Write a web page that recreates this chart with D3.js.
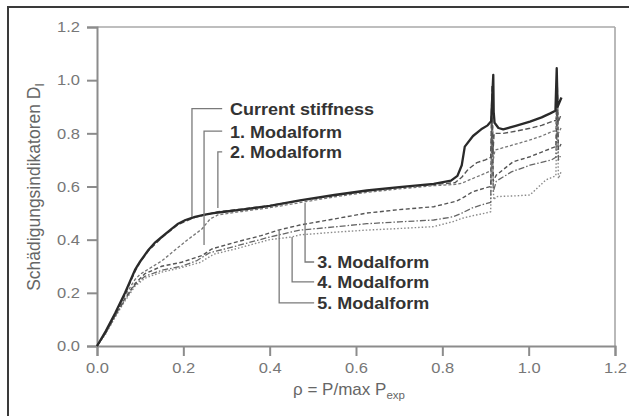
<!DOCTYPE html>
<html><head><meta charset="utf-8">
<script src="https://cdn.jsdelivr.net/npm/d3@7"></script>
<style>
body{margin:0;background:#fff;}
svg{display:block;font-family:Arial,"Liberation Sans",Helvetica,sans-serif;}
</style></head><body>
<svg id="chart" width="629" height="416"></svg>
<script>
// ---------- data ----------
const xTicks = [0.0, 0.2, 0.4, 0.6, 0.8, 1.0, 1.2];
const yTicks = [0.0, 0.2, 0.4, 0.6, 0.8, 1.0, 1.2];

const currentStiffness = [[0,0],[0.02,0.055],[0.042,0.123],[0.065,0.2],[0.088,0.286],[0.1,0.318],[0.119,0.361],[0.135,0.39],[0.15,0.41],[0.17,0.437],[0.188,0.46],[0.205,0.474],[0.227,0.486],[0.25,0.494],[0.27,0.5],[0.3,0.506],[0.335,0.513],[0.4,0.527],[0.47,0.548],[0.55,0.568],[0.625,0.585],[0.7,0.598],[0.78,0.61],[0.82,0.622],[0.835,0.64],[0.845,0.68],[0.852,0.75],[0.871,0.79],[0.89,0.815],[0.905,0.83],[0.913,0.845],[0.916,0.95],[0.918,1.02],[0.919,0.88],[0.921,0.84],[0.93,0.82],[0.941,0.815],[0.97,0.828],[1.003,0.844],[1.03,0.86],[1.05,0.875],[1.062,0.885],[1.065,1.045],[1.067,0.9],[1.076,0.935]];
const modal1 = [[0,0],[0.02,0.048],[0.042,0.112],[0.065,0.175],[0.088,0.23],[0.111,0.262],[0.15,0.285],[0.196,0.3],[0.23,0.32],[0.26,0.35],[0.32,0.375],[0.4,0.41],[0.47,0.436],[0.55,0.448],[0.625,0.46],[0.7,0.467],[0.78,0.474],[0.825,0.486],[0.845,0.5],[0.87,0.52],[0.9,0.535],[0.912,0.54],[0.915,0.85],[0.918,0.58],[0.925,0.62],[0.96,0.655],[1.003,0.68],[1.053,0.7],[1.063,0.71],[1.066,0.9],[1.069,0.7],[1.075,0.72]];
const modal2 = [[0,0],[0.02,0.05],[0.042,0.12],[0.065,0.195],[0.088,0.28],[0.1,0.315],[0.119,0.358],[0.15,0.408],[0.188,0.457],[0.227,0.484],[0.28,0.505],[0.335,0.515],[0.4,0.528],[0.47,0.547],[0.55,0.566],[0.625,0.583],[0.7,0.596],[0.78,0.607],[0.83,0.615],[0.845,0.635],[0.86,0.665],[0.88,0.69],[0.9,0.7],[0.912,0.71],[0.915,0.98],[0.917,0.72],[0.92,0.8],[0.941,0.8],[0.97,0.808],[1.003,0.819],[1.03,0.83],[1.055,0.845],[1.064,0.85],[1.066,1.02],[1.068,0.84],[1.075,0.87]];
const modal3 = [[0,0],[0.02,0.05],[0.042,0.12],[0.065,0.19],[0.088,0.25],[0.1,0.27],[0.12,0.29],[0.15,0.32],[0.18,0.36],[0.21,0.4],[0.243,0.44],[0.262,0.478],[0.28,0.493],[0.335,0.506],[0.4,0.52],[0.48,0.542],[0.55,0.561],[0.625,0.578],[0.7,0.591],[0.78,0.603],[0.83,0.608],[0.845,0.612],[0.87,0.63],[0.9,0.65],[0.914,0.66],[0.916,0.95],[0.918,0.7],[0.922,0.737],[0.95,0.75],[1.003,0.775],[1.03,0.79],[1.053,0.806],[1.063,0.81],[1.066,0.98],[1.069,0.8],[1.075,0.82]];
const modal4 = [[0,0],[0.02,0.045],[0.042,0.108],[0.065,0.17],[0.088,0.225],[0.111,0.255],[0.15,0.278],[0.196,0.295],[0.24,0.315],[0.27,0.345],[0.32,0.365],[0.4,0.4],[0.45,0.41],[0.47,0.418],[0.55,0.428],[0.625,0.436],[0.7,0.442],[0.78,0.449],[0.825,0.468],[0.845,0.48],[0.87,0.49],[0.9,0.5],[0.912,0.505],[0.915,0.8],[0.919,0.55],[0.925,0.562],[0.97,0.565],[1.003,0.568],[1.04,0.625],[1.063,0.64],[1.066,0.85],[1.069,0.63],[1.075,0.655]];
const modal5 = [[0,0],[0.02,0.05],[0.042,0.115],[0.065,0.18],[0.088,0.235],[0.111,0.272],[0.15,0.3],[0.196,0.315],[0.243,0.34],[0.266,0.365],[0.32,0.39],[0.38,0.415],[0.42,0.436],[0.47,0.455],[0.55,0.478],[0.625,0.5],[0.7,0.513],[0.78,0.524],[0.833,0.545],[0.85,0.56],[0.87,0.58],[0.9,0.595],[0.912,0.6],[0.915,0.9],[0.918,0.62],[0.925,0.643],[0.964,0.693],[1.003,0.712],[1.053,0.744],[1.063,0.75],[1.066,0.95],[1.069,0.74],[1.075,0.76]];

const labelNames   = ["Current stiffness","1. Modalform","2. Modalform","3. Modalform","4. Modalform","5. Modalform"];
const labelAnchorX = [0.220, 0.248, 0.280, 0.482, 0.452, 0.422];
const labelAnchorY = [0.485, 0.380, 0.519, 0.538, 0.410, 0.436];
const labelElbowY  = [0.893, 0.808, 0.730, 0.316, 0.241, 0.162];
const labelLineEndX= [0.290, 0.290, 0.290, 0.503, 0.503, 0.503];
const labelTextX   = [0.308, 0.308, 0.308, 0.510, 0.510, 0.510];

const xTitle = "ρ = P/max P", xTitleSub = "exp";
const yTitle = "Schädigungsindikatoren D", yTitleSub = "I";

// ---------- chart ----------
const svg = d3.select("#chart");
svg.append("rect").attr("width",629).attr("height",416).attr("fill","#fff");
svg.append("rect").attr("x",8).attr("y",7).attr("width",660).attr("height",460)
   .attr("fill","none").attr("stroke","#3a3a3a").attr("stroke-width",2);

const x = d3.scaleLinear().domain([0,1.2]).range([97,615]);
const y = d3.scaleLinear().domain([0,1.2]).range([346,27]);

// box
svg.append("line").attr("x1",x(0)).attr("x2",x(1.2)).attr("y1",y(1.2)).attr("y2",y(1.2)).attr("stroke","#a8a8a8").attr("stroke-width",1.6);
svg.append("line").attr("x1",x(1.2)).attr("x2",x(1.2)).attr("y1",y(1.2)).attr("y2",y(0)).attr("stroke","#a8a8a8").attr("stroke-width",1.6);

const gx = svg.append("g").attr("transform",`translate(0,${y(0)})`)
  .call(d3.axisBottom(x).tickValues(xTicks).tickFormat(d3.format(".1f")).tickSize(10).tickPadding(6));
const gy = svg.append("g").attr("transform",`translate(${x(0)},0)`)
  .call(d3.axisLeft(y).tickValues(yTicks).tickFormat(d3.format(".1f")).tickSize(10).tickPadding(7));
[gx,gy].forEach(g=>{
  g.select(".domain").attr("stroke","#8c8c8c").attr("stroke-width",2);
  g.selectAll(".tick line").attr("stroke","#8c8c8c").attr("stroke-width",2);
  g.selectAll(".tick text").attr("fill","#777").attr("font-size",15)
    .attr("font-family","Arial, 'Liberation Sans', sans-serif");
});
gx.selectAll(".tick text").style("transform-box","fill-box").style("transform-origin","center").style("transform","scaleX(1.1)");
gy.selectAll(".tick text").style("transform-box","fill-box").style("transform-origin","right center").style("transform","scaleX(1.1)");

// series
const line = d3.line().x(d=>x(d[0])).y(d=>y(d[1]));
const seriesData = [modal4, modal1, modal5, modal3, modal2, currentStiffness];
const seriesStroke = ["#8a8a8a","#666","#555","#777","#555","#2a2a2a"];
const seriesWidth  = [1.4,1.3,1.4,1.3,1.4,2.3];
const seriesDash   = ["1.5,2","6,2,1.5,2","4,2.5","3,2","5,2.5",null];
seriesData.forEach((s,i)=>{
  svg.append("path").datum(s).attr("d",line).attr("fill","none")
    .attr("stroke",seriesStroke[i]).attr("stroke-width",seriesWidth[i])
    .attr("stroke-dasharray",seriesDash[i]).attr("stroke-linejoin","round");
});

// leader labels
labelNames.forEach((name,i)=>{
  const ax=x(labelAnchorX[i]), ay=y(labelAnchorY[i]), ey=y(labelElbowY[i]), lx=x(labelLineEndX[i]);
  svg.append("path").attr("d",`M${ax},${ay}V${ey}H${lx}`).attr("fill","none")
    .attr("stroke","#7a7a7a").attr("stroke-width",1.3);
  svg.append("text").attr("x",x(labelTextX[i])).attr("y",ey+6.5)
    .attr("font-size",17).attr("font-weight","bold").attr("fill","#333")
    .style("transform-box","fill-box").style("transform-origin","left center").style("transform","scaleX(1.06)")
    .text(name);
});

// axis titles
const xt = svg.append("text").attr("x",349).attr("y",395).attr("text-anchor","middle")
  .attr("font-size",17).attr("fill","#666");
xt.append("tspan").text(xTitle);
xt.append("tspan").attr("dy",4).attr("font-size",11.5).text(xTitleSub);

const yt = svg.append("text").attr("transform","translate(40,187) rotate(-90)").attr("text-anchor","middle")
  .attr("font-size",17.5).attr("fill","#666");
yt.append("tspan").text(yTitle);
yt.append("tspan").attr("dy",4).attr("font-size",12).text(yTitleSub);
</script>
</body></html>
